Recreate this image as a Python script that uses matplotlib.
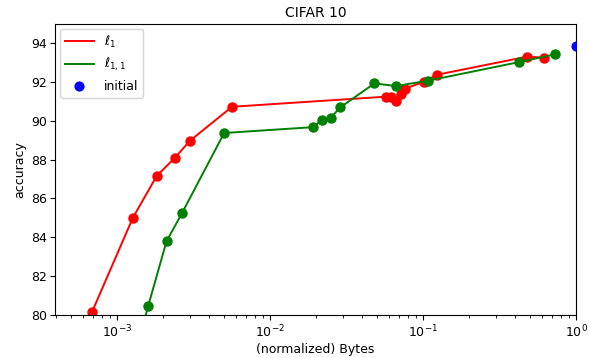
import numpy as np
import matplotlib.pyplot as plt

# l1 pruning curve
l1_bytes = [6.87e-4, 1.27e-3, 1.82e-3, 2.39e-3, 3.0e-3, 5.65e-3,
            0.0573, 0.0618, 0.0667, 0.0718, 0.0762, 0.1016, 0.1236, 0.479, 0.618]
l1_acc = [80.15, 85.0, 87.16, 88.09, 88.97, 90.72,
          91.24, 91.24, 91.03, 91.39, 91.65, 92.01, 92.37, 93.30, 93.25]

# l1,1 pruning curve
l11_bytes = [1.22e-3, 1.60e-3, 2.11e-3, 2.66e-3, 5.02e-3, 0.0190, 0.0219, 0.0249,
             0.0288, 0.0481, 0.0667, 0.1074, 0.424, 0.730]
l11_acc = [77.0, 80.46, 83.8, 85.24, 89.37, 89.67, 90.03, 90.15,
           90.69, 91.92, 91.79, 92.06, 93.02, 93.42]

init_bytes = [1.0]
init_acc = [93.85]

fig = plt.figure(figsize=(5.89, 3.58), dpi=100)
ax = fig.add_axes([0.0934, 0.12, 0.8846, 0.814])

ax.plot(l1_bytes, l1_acc, "-", color="red", lw=1.4, label=r"$\ell_1$")
ax.plot(l1_bytes, l1_acc, "o", color="red", ms=6.5)
ax.plot(l11_bytes, l11_acc, "-", color="green", lw=1.4, label=r"$\ell_{1,1}$")
ax.plot(l11_bytes, l11_acc, "o", color="green", ms=6.5)
ax.scatter(init_bytes, init_acc, color="blue", s=40, zorder=3, label="initial")

ax.set_xscale("log")
ax.set_xlim(3.94e-4, 1.0)
ax.set_ylim(80, 95)
ax.set_yticks(np.arange(80, 95, 2))
ax.tick_params(labelsize=9, pad=2.5)

ax.set_title("CIFAR 10", fontsize=10, pad=5)
ax.set_xlabel("(normalized) Bytes", fontsize=9, labelpad=2)
ax.set_ylabel("accuracy", fontsize=9, labelpad=3)
ax.legend(loc="upper left", fontsize=9, handlelength=2.3, borderaxespad=0.4)

fig.savefig("out.png", dpi=100)
